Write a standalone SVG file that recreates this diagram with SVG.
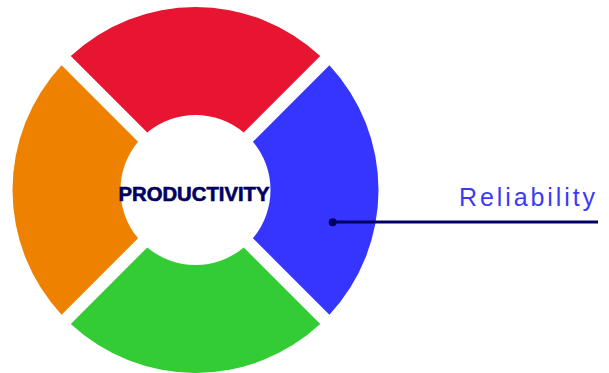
<svg xmlns="http://www.w3.org/2000/svg" width="609" height="373" viewBox="0 0 609 373">
<style>
.seg{stroke:none}
.center{font-family:"Liberation Sans",Arial,sans-serif;font-weight:bold;font-size:19.5px;fill:#000060;stroke:#000060;stroke-width:0.6}
.label{font-family:"Liberation Sans",Arial,sans-serif;font-size:25px;fill:#3B3BF5;letter-spacing:2.9px}
.conn{stroke:#000066;stroke-width:3;fill:none}
</style>
<rect width="609" height="373" fill="#ffffff"/>
<g id="seg-top">
<path class="seg" fill="#E81532" d="M 70.78 56.08 A 183 183 0 0 1 320.22 56.08 L 243.74 132.57 A 75 75 0 0 0 147.26 132.57 Z"/>
</g>
<g id="seg-right">
<path class="seg" fill="#3535FF" d="M 329.42 65.28 A 183 183 0 0 1 329.42 314.72 L 252.93 238.24 A 75 75 0 0 0 252.93 141.76 Z"/>
</g>
<g id="seg-bottom">
<path class="seg" fill="#34CC34" d="M 320.22 323.92 A 183 183 0 0 1 70.78 323.92 L 147.26 247.43 A 75 75 0 0 0 243.74 247.43 Z"/>
</g>
<g id="seg-left">
<path class="seg" fill="#EE8200" d="M 61.58 314.72 A 183 183 0 0 1 61.58 65.28 L 138.07 141.76 A 75 75 0 0 0 138.07 238.24 Z"/>
</g>
<g id="center">
<text class="center" x="194" y="200.7" text-anchor="middle" textLength="151" lengthAdjust="spacingAndGlyphs">PRODUCTIVITY</text>
</g>
<g id="connectors">
<line class="conn" x1="333" y1="222" x2="598" y2="222"/>
<circle cx="332.7" cy="222.2" r="4" fill="#000066"/>
</g>
<g id="label-reliability">
<text class="label" x="459" y="206">Reliability</text>
</g>
</svg>
